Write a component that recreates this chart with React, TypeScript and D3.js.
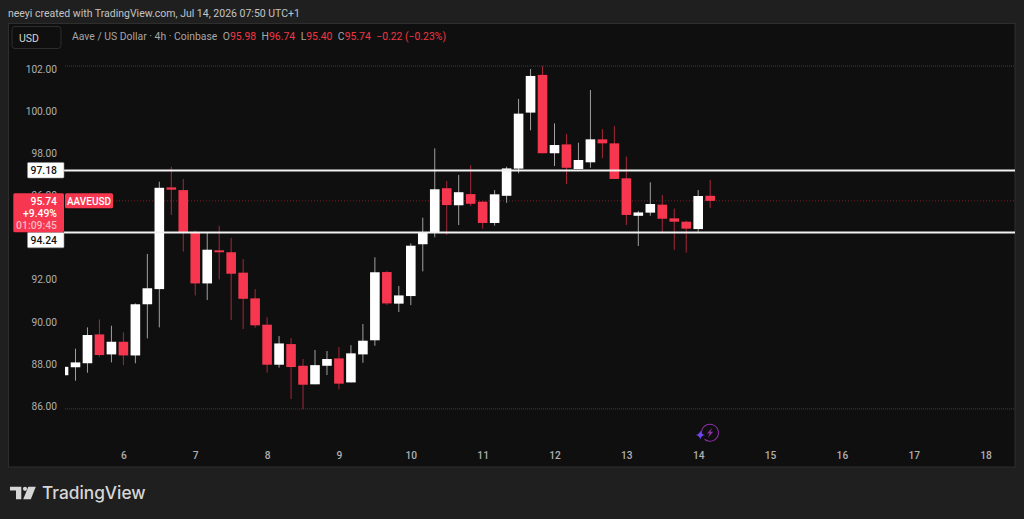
/**
 * Aave / US Dollar 4h candlestick chart, TradingView dark look.
 **/
import React, { useEffect, useRef } from "react";

import * as d3 from "d3";

// Candle times as fractional days of the month (one candle per 4h)
const firstDay = 5 + 1 / 6;
const candleDays = 1 / 6;

const opens = [
  87.46, 87.84, 88.03, 89.4, 88.45, 89.05, 88.4, 90.83, 91.55, 96.38, 96.25,
  94.23, 91.82, 93.39, 93.3, 92.33, 91.11, 89.86, 87.96, 88.94, 87.91, 87.03,
  87.91, 88.26, 87.12, 88.45, 89.12, 92.36, 90.86, 91.22, 93.68, 94.25, 96.34,
  95.53, 96.06, 95.7, 94.69, 95.98, 97.27, 99.93, 101.72, 98.0, 98.42, 97.25,
  97.57, 98.66, 98.47, 96.81, 95.03, 95.18, 95.56, 94.91, 94.75, 94.4, 95.98,
];
const highs = [
  87.95, 88.72, 89.73, 90.11, 89.81, 89.5, 90.87, 93.22, 96.65, 97.36, 96.78,
  94.32, 94.23, 94.56, 93.98, 92.98, 91.55, 90.21, 89.32, 89.23, 88.23, 88.66,
  88.61, 88.8, 88.89, 89.89, 93.06, 92.42, 91.7, 93.72, 94.94, 98.23, 96.68,
  96.97, 97.43, 95.73, 96.25, 97.36, 100.58, 102.0, 102.14, 99.42, 98.91, 98.5,
  101.0, 99.15, 99.29, 97.84, 95.26, 96.62, 96.02, 95.37, 94.8, 96.25, 96.74,
];
const lows = [
  87.35, 87.2, 87.58, 88.34, 88.07, 87.94, 88.03, 89.21, 89.73, 95.07, 93.33,
  91.25, 91.03, 92.01, 90.08, 89.65, 89.72, 87.58, 87.82, 86.33, 85.86, 87.03,
  87.47, 86.79, 87.12, 88.05, 88.86, 90.79, 90.46, 90.79, 92.39, 94.01, 94.12,
  94.59, 95.49, 94.42, 94.56, 95.65, 97.05, 99.09, 98.0, 97.39, 96.54, 97.25,
  97.31, 97.76, 96.78, 94.59, 93.6, 95.03, 94.2, 93.41, 93.28, 94.27, 95.4,
];
const closes = [
  87.86, 88.07, 89.37, 88.42, 89.05, 88.4, 90.83, 91.59, 96.36, 96.27, 94.23,
  91.82, 93.42, 93.3, 92.28, 91.09, 89.83, 87.96, 88.97, 87.85, 87.01, 87.94,
  88.23, 87.06, 88.5, 89.1, 92.35, 90.87, 91.25, 93.61, 94.23, 96.29, 95.54,
  96.15, 95.6, 94.69, 96.05, 97.28, 99.88, 101.67, 98.0, 98.39, 97.31, 97.68,
  98.66, 98.47, 96.78, 95.07, 95.19, 95.59, 94.89, 94.75, 94.42, 95.97, 95.74,
];

// 94.00 sits fully behind the 94.24 tag in the picture, so it is left out
const priceTicks = [86, 88, 90, 92, 96, 98, 100, 102];
const dayTicks = [6, 7, 8, 9, 10, 11, 12, 13, 14, 15, 16, 17, 18];
const drawnLevels = [97.18, 94.24];
const lastPrice = 95.74;
const rangeHigh = 102.14;
const rangeLow = 85.86;

const headerText = "neeyi created with TradingView.com, Jul 14, 2026 07:50 UTC+1";
const legendParts = [
  ["Aave / US Dollar · 4h · Coinbase", "#a6a6a6"],
  ["O", "#a6a6a6", 5.5],
  ["95.98", "#f23645"],
  ["H", "#a6a6a6", 5.5],
  ["96.74", "#f23645"],
  ["L", "#a6a6a6", 5.5],
  ["95.40", "#f23645"],
  ["C", "#a6a6a6", 5.5],
  ["95.74", "#f23645"],
  ["−0.22 (−0.23%)", "#f23645", 5.5],
] as [string, string, number?][];

const RED = "#f7374f";
const WHITE = "#ffffff";
const FONT = "Roboto, sans-serif";

const width = 1024;
const height = 519;

export default function App(): React.ReactElement {
  const ref = useRef<SVGSVGElement | null>(null);

  useEffect(() => {
    const svg = d3.select(ref.current);
    svg.selectAll("*").remove();

    const x = d3.scaleLinear().domain([6, 18]).range([123.4, 985.6]);
    const y = d3.scaleLinear().domain([86, 102]).range([406, 69]);

    // Page and pane backgrounds
    svg.append("rect").attr("width", width).attr("height", height).attr("fill", "#1f1f1f");
    svg
      .append("rect")
      .attr("x", 8.5)
      .attr("y", 23.5)
      .attr("width", 1006.5)
      .attr("height", 443.5)
      .attr("fill", "#0f0f0f")
      .attr("stroke", "#2e2e2e");

    svg
      .append("text")
      .attr("x", 8)
      .attr("y", 17)
      .attr("fill", "#c4c4c4")
      .attr("font-family", FONT)
      .attr("font-size", 10.5)
      .text(headerText);

    // Currency button
    svg
      .append("rect")
      .attr("x", 12)
      .attr("y", 26.5)
      .attr("width", 49)
      .attr("height", 22)
      .attr("rx", 3)
      .attr("fill", "none")
      .attr("stroke", "#2e2e2e");
    svg
      .append("text")
      .attr("x", 29)
      .attr("y", 41.5)
      .attr("text-anchor", "middle")
      .attr("fill", "#d4d4d4")
      .attr("font-family", FONT)
      .attr("font-size", 10.5)
      .text("USD");

    // Legend line
    const legend = svg
      .append("text")
      .attr("x", 72)
      .attr("y", 40.3)
      .attr("font-family", FONT)
      .attr("font-size", 10.4);
    legendParts.forEach(([label, color, gap]) => {
      legend
        .append("tspan")
        .attr("dx", gap ?? 0)
        .attr("fill", color)
        .text(label);
    });

    // Dotted high / low of the visible range, and the last price line
    const pane = [65, 1014];
    [rangeHigh, rangeLow].forEach((p) => {
      svg
        .append("line")
        .attr("x1", pane[0])
        .attr("x2", pane[1])
        .attr("y1", y(p))
        .attr("y2", y(p))
        .attr("stroke", "#404040")
        .attr("stroke-dasharray", "1 1");
    });
    svg
      .append("line")
      .attr("x1", pane[0])
      .attr("x2", pane[1])
      .attr("y1", y(lastPrice))
      .attr("y2", y(lastPrice))
      .attr("stroke", "#7a1f2b")
      .attr("stroke-dasharray", "1 2");

    // Axes
    const yAxis = svg
      .append("g")
      .attr("transform", "translate(60,0)")
      .call(
        d3
          .axisLeft(y)
          .tickValues(priceTicks)
          .tickSize(0)
          .tickPadding(3)
          .tickFormat((d) => d3.format(".2f")(d as number)),
      );
    yAxis.select(".domain").remove();
    yAxis.selectAll("text").attr("fill", "#b0b0b0").attr("font-family", FONT).attr("font-size", 10.2);

    const xAxis = svg
      .append("g")
      .attr("transform", "translate(0,450)")
      .call(
        d3
          .axisBottom(x)
          .tickValues(dayTicks)
          .tickSize(0)
          .tickPadding(2)
          .tickFormat((d) => String(d)),
      );
    xAxis.select(".domain").remove();
    xAxis
      .selectAll("text")
      .attr("fill", "#b0b0b0")
      .attr("font-family", FONT)
      .attr("font-size", 10.2)
      .attr("font-weight", 500);

    // Candles, clipped at the price scale
    const defs = svg.append("defs");
    defs
      .append("clipPath")
      .attr("id", "pane-clip")
      .append("rect")
      .attr("x", pane[0])
      .attr("y", 24)
      .attr("width", pane[1] - pane[0])
      .attr("height", 443);

    const candles = d3
      .range(opens.length)
      .map((i) => ({
        day: firstDay + i * candleDays,
        o: opens[i],
        h: highs[i],
        l: lows[i],
        c: closes[i],
      }));
    const bodyWidth = 9.6;
    const g = svg.append("g").attr("clip-path", "url(#pane-clip)");
    g.selectAll("line")
      .data(candles)
      .join("line")
      .attr("x1", (d) => x(d.day))
      .attr("x2", (d) => x(d.day))
      .attr("y1", (d) => y(d.h))
      .attr("y2", (d) => y(d.l))
      .attr("stroke", (d) => (d.c >= d.o ? "#a0a0a0" : "#a3283a"))
      .attr("stroke-width", 1);
    g.selectAll("rect")
      .data(candles)
      .join("rect")
      .attr("x", (d) => x(d.day) - bodyWidth / 2)
      .attr("width", bodyWidth)
      .attr("y", (d) => y(Math.max(d.o, d.c)))
      .attr("height", (d) => Math.max(1.5, Math.abs(y(d.o) - y(d.c))))
      .attr("fill", (d) => (d.c >= d.o ? WHITE : RED));

    // Horizontal drawings
    drawnLevels.forEach((p) => {
      svg
        .append("line")
        .attr("x1", 64)
        .attr("x2", pane[1] + 1)
        .attr("y1", y(p))
        .attr("y2", y(p))
        .attr("stroke", "#f2f2f2")
        .attr("stroke-width", 2);
    });

    // Price tags. The lower one is pushed down by the last price tag.
    const tagText = (tx: number, ty: number, label: string, color: string, anchor = "end") =>
      svg
        .append("text")
        .attr("x", tx)
        .attr("y", ty)
        .attr("text-anchor", anchor)
        .attr("fill", color)
        .attr("font-family", FONT)
        .attr("font-size", 10.4)
        .attr("font-weight", 500)
        .text(label);

    [
      { label: "97.18", top: y(97.18) - 8 },
      { label: "94.24", top: 232.3 },
    ].forEach(({ label, top }) => {
      svg
        .append("rect")
        .attr("x", 27.5)
        .attr("y", top)
        .attr("width", 36.5)
        .attr("height", 15.5)
        .attr("rx", 1)
        .attr("fill", WHITE)
        .attr("stroke", "#8c8c8c")
        .attr("stroke-width", 0.6);
      tagText(57, top + 11.5, label, "#131313");
    });

    svg
      .append("rect")
      .attr("x", 13.3)
      .attr("y", 193.3)
      .attr("width", 50.7)
      .attr("height", 39)
      .attr("rx", 1.5)
      .attr("fill", RED);
    tagText(57, 204.6, "95.74", WHITE);
    tagText(57, 217, "+9.49%", WHITE);
    tagText(57, 229, "01:09:45", "#fbb6bf");

    svg
      .append("rect")
      .attr("x", 65)
      .attr("y", 193.3)
      .attr("width", 48)
      .attr("height", 15)
      .attr("rx", 1.5)
      .attr("fill", RED);
    tagText(89, 204.6, "AAVEUSD", WHITE, "middle").attr("font-size", 10);

    // Purple replay badge
    const badge = svg.append("g").attr("transform", "translate(710,432.7)");
    badge
      .append("path")
      .attr(
        "d",
        d3.arc()({
          innerRadius: 8,
          outerRadius: 9,
          startAngle: -Math.PI * 0.62,
          endAngle: Math.PI * 1.22,
        }) as string,
      )
      .attr("fill", "#8e2fa8");
    badge
      .append("path")
      .attr("d", "M2.2,-5 L-3,0.8 L-0.3,0.8 L-2,5 L3.2,-1 L0.4,-1 Z")
      .attr("fill", "#8e2fa8");
    svg
      .append("path")
      .attr("transform", "translate(700.3,435)")
      .attr("d", "M0,-4.6 Q0.7,-0.7 4.6,0 Q0.7,0.7 0,4.6 Q-0.7,0.7 -4.6,0 Q-0.7,-0.7 0,-4.6 Z")
      .attr("fill", "#7045f0");

    // TradingView logo
    const logo = svg.append("g").attr("fill", "#d6d6d6");
    logo.append("path").attr("d", "M10,486.7 H21.3 V499.3 H16 V490.6 H10 Z");
    logo.append("circle").attr("cx", 25).attr("cy", 488.8).attr("r", 2.1);
    logo.append("path").attr("d", "M28.3,486.7 H35.8 L30.8,499.3 H23.2 Z");
    svg
      .append("text")
      .attr("x", 42)
      .attr("y", 499)
      .attr("fill", "#d6d6d6")
      .attr("font-family", "Inter, Roboto, sans-serif")
      .attr("font-size", 17.3)
      .attr("font-weight", 500)
      .text("TradingView");
  }, []);

  return (
    <svg
      ref={ref}
      width={width}
      height={height}
      style={{ position: "absolute", left: 0, top: 0, display: "block" }}
    ></svg>
  );
}
